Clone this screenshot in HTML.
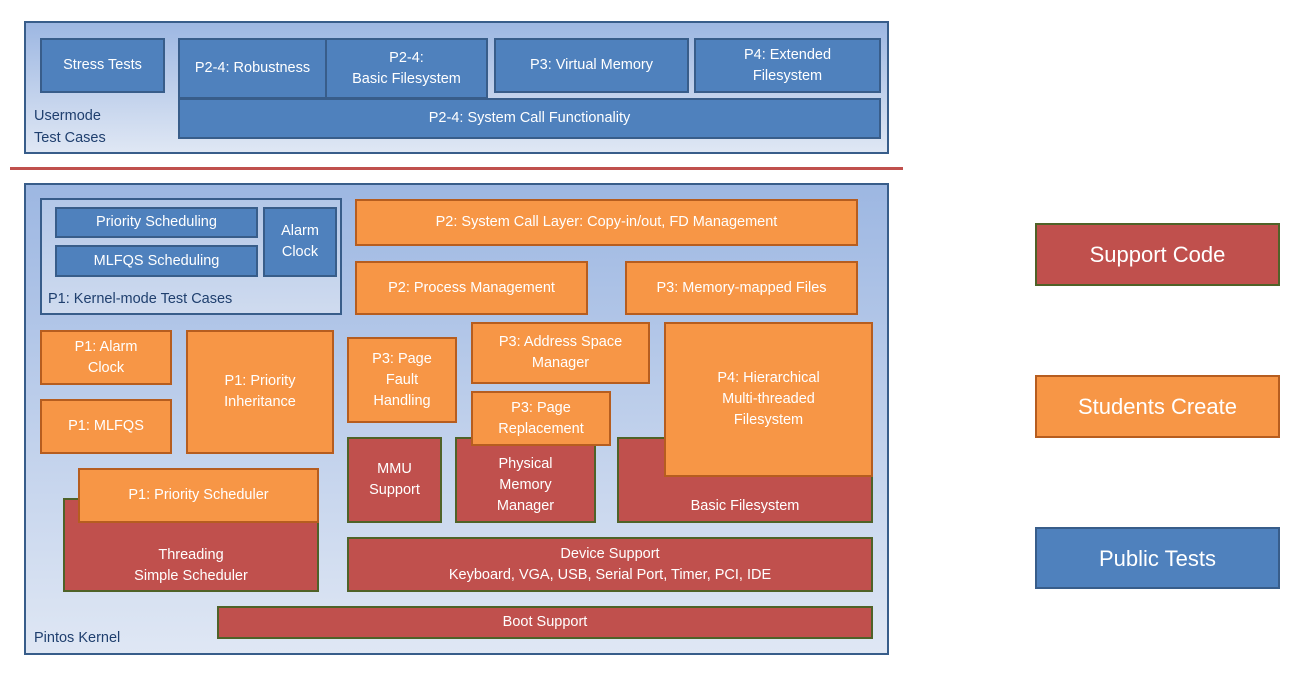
<!DOCTYPE html>
<html><head><meta charset="utf-8"><style>
body{margin:0;width:1306px;height:676px;background:#fff;position:relative;overflow:hidden;font-family:"Liberation Sans",sans-serif}
.b{position:absolute;box-sizing:border-box;display:flex;align-items:center;justify-content:center;text-align:center;color:#fff;font-size:14.5px;line-height:21px;border:2px solid}
.bl{background:#4f81bd;border-color:#385d8a}
.or{background:#f79646;border-color:#b65d1f}
.rd{background:#c0504d;border-color:#4f6228}
.c{position:absolute;box-sizing:border-box;border:2px solid #385d8a;background:linear-gradient(#9db7e2,#dfe7f4)}
.t{position:absolute;color:#1f3f6e;font-size:14.5px;line-height:22px}
</style></head><body>
<div class="c" style="left:24px;top:21px;width:865px;height:133px"></div>
<div class="t" style="left:34px;top:105px">Usermode<br>Test Cases</div>
<div class="b bl" style="left:40px;top:38px;width:125px;height:55px">Stress Tests</div>
<div class="b bl" style="left:178px;top:38px;width:149px;height:61px">P2-4: Robustness</div>
<div class="b bl" style="left:325px;top:38px;width:163px;height:61px">P2-4:<br>Basic Filesystem</div>
<div class="b bl" style="left:494px;top:38px;width:195px;height:55px">P3: Virtual Memory</div>
<div class="b bl" style="left:694px;top:38px;width:187px;height:55px">P4: Extended<br>Filesystem</div>
<div class="b bl" style="left:178px;top:98px;width:703px;height:41px">P2-4: System Call Functionality</div>
<div style="position:absolute;left:10px;top:167px;width:893px;height:3px;background:#c0504d"></div>

<div class="c" style="left:24px;top:183px;width:865px;height:472px"></div>
<div class="t" style="left:34px;top:627px">Pintos Kernel</div>
<div class="c" style="left:40px;top:198px;width:302px;height:117px;background:linear-gradient(#b3c7e8,#cfdbef)"></div>
<div class="t" style="left:48px;top:288px">P1: Kernel-mode Test Cases</div>
<div class="b bl" style="left:55px;top:207px;width:203px;height:31px">Priority Scheduling</div>
<div class="b bl" style="left:55px;top:245px;width:203px;height:32px">MLFQS Scheduling</div>
<div class="b bl" style="left:263px;top:207px;width:74px;height:70px">Alarm<br>Clock</div>
<div class="b or" style="left:355px;top:199px;width:503px;height:47px">P2: System Call Layer: Copy-in/out, FD Management</div>
<div class="b or" style="left:355px;top:261px;width:233px;height:54px">P2: Process Management</div>
<div class="b or" style="left:625px;top:261px;width:233px;height:54px">P3: Memory-mapped Files</div>
<div class="b or" style="left:40px;top:330px;width:132px;height:55px">P1: Alarm<br>Clock</div>
<div class="b or" style="left:40px;top:399px;width:132px;height:55px">P1: MLFQS</div>
<div class="b or" style="left:186px;top:330px;width:148px;height:124px">P1: Priority<br>Inheritance</div>
<div class="b or" style="left:347px;top:337px;width:110px;height:86px">P3: Page<br>Fault<br>Handling</div>
<div class="b rd" style="left:347px;top:437px;width:95px;height:86px">MMU<br>Support</div>
<div class="b rd" style="left:455px;top:437px;width:141px;height:86px;padding-top:10px">Physical<br>Memory<br>Manager</div>
<div class="b rd" style="left:617px;top:437px;width:256px;height:86px;align-items:flex-end;padding-bottom:4px">Basic Filesystem</div>
<div class="b or" style="left:471px;top:322px;width:179px;height:62px">P3: Address Space<br>Manager</div>
<div class="b or" style="left:471px;top:391px;width:140px;height:55px">P3: Page<br>Replacement</div>
<div class="b or" style="left:664px;top:322px;width:209px;height:155px">P4: Hierarchical<br>Multi-threaded<br>Filesystem</div>
<div class="b rd" style="left:63px;top:498px;width:256px;height:94px;padding-top:42px">Threading<br>Simple Scheduler</div>
<div class="b or" style="left:78px;top:468px;width:241px;height:55px">P1: Priority Scheduler</div>
<div class="b rd" style="left:347px;top:537px;width:526px;height:55px">Device Support<br>Keyboard, VGA, USB, Serial Port, Timer, PCI, IDE</div>
<div class="b rd" style="left:217px;top:606px;width:656px;height:33px">Boot Support</div>

<div class="b rd" style="left:1035px;top:223px;width:245px;height:63px;font-size:22px">Support Code</div>
<div class="b or" style="left:1035px;top:375px;width:245px;height:63px;font-size:22px">Students Create</div>
<div class="b bl" style="left:1035px;top:527px;width:245px;height:62px;font-size:22px">Public Tests</div>
</body></html>
